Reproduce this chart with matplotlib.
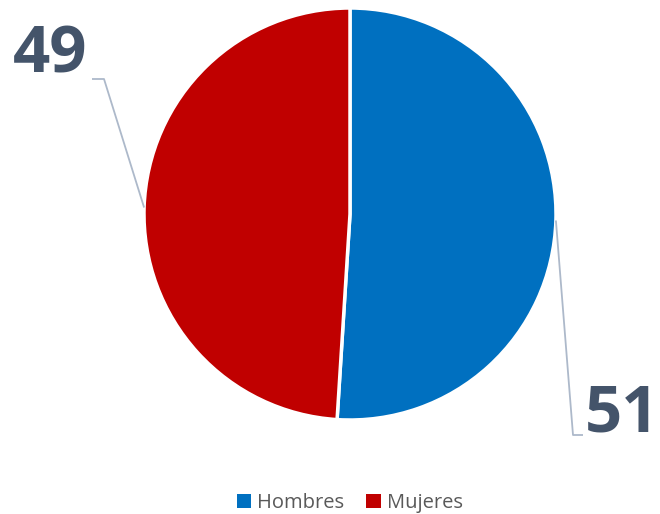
import numpy as np
import matplotlib.pyplot as plt
from matplotlib.patches import Patch

labels = ['Hombres', 'Mujeres']
values = [51, 49]
colors = ['#0070C0', '#C00000']

plt.rcParams['font.family'] = ['Open Sans', 'DejaVu Sans']

fig = plt.figure(figsize=(6.6, 5.14), dpi=100)
ax = fig.add_axes([0, 0, 1, 1])

cx, cy, r = 350, 300, 206
wedges, _ = ax.pie(values, colors=colors, startangle=90, counterclock=False,
                   center=(cx, cy), radius=r, frame=True,
                   wedgeprops=dict(edgecolor='white', linewidth=2.5))
ax.set_xlim(0, 660)
ax.set_ylim(0, 514)
ax.set_aspect('equal')
ax.axis('off')

# label boxes and elbow of the leader lines (pixels, y up)
label_pos = [(622, 99), (50, 458)]
elbows = [[(573, 79), (583, 79)], [(104, 435), (92, 435)]]
line_c = '#ADB9CA'
for w, v, (tx, ty), elb in zip(wedges, values, label_pos, elbows):
    mid = np.deg2rad((w.theta1 + w.theta2) / 2)
    ax_pt = (cx + r * np.cos(mid), cy + r * np.sin(mid))
    xs = [ax_pt[0]] + [p[0] for p in elb]
    ys = [ax_pt[1]] + [p[1] for p in elb]
    ax.plot(xs, ys, color=line_c, lw=1.3, solid_capstyle='butt')
    ax.text(tx, ty, str(v), ha='center', va='center', fontsize=47,
            fontweight='bold', color='#44546A')

handles = [Patch(facecolor=c, label=l) for c, l in zip(colors, labels)]
fig.legend(handles=handles, loc='center', bbox_to_anchor=(0.53, 0.022),
           ncol=2, frameon=False, fontsize=14.5, handlelength=0.7,
           handleheight=0.7, handletextpad=0.3, columnspacing=1.1,
           labelcolor='#595959')

fig.savefig('out.png', dpi=100)
